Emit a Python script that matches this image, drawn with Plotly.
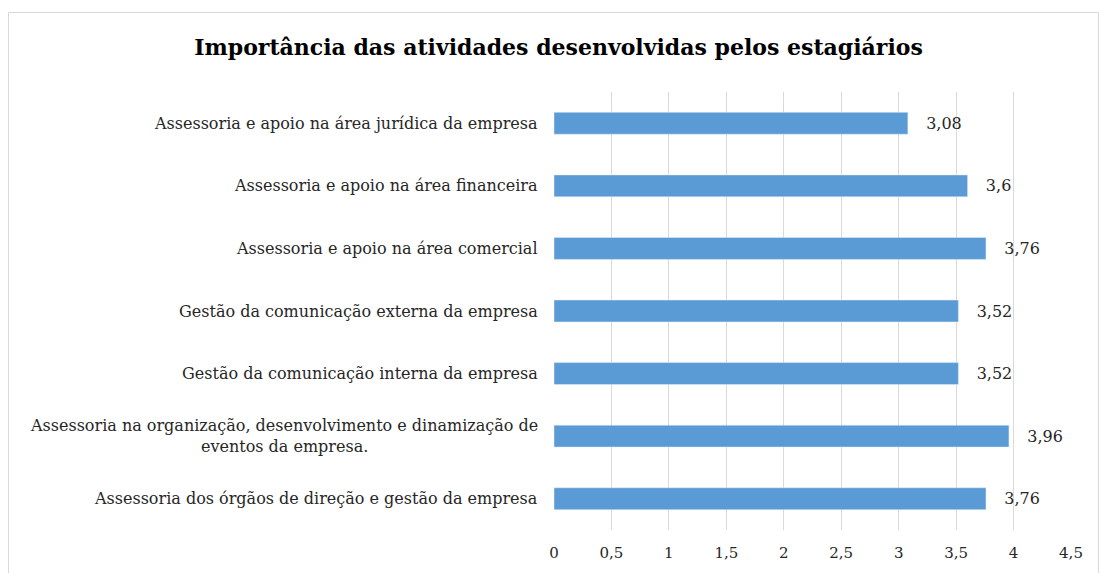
import plotly.graph_objects as go

categories = [
    "Assessoria dos órgãos de direção e gestão da empresa",
    "Assessoria na organização, desenvolvimento e dinamização de<br>eventos da empresa.",
    "Gestão da comunicação interna da empresa",
    "Gestão da comunicação externa da empresa",
    "Assessoria e apoio na área comercial",
    "Assessoria e apoio na área financeira",
    "Assessoria e apoio na área jurídica da empresa",
]
values = [3.76, 3.96, 3.52, 3.52, 3.76, 3.6, 3.08]
value_labels = ["\u00a0\u00a0\u00a0" + f"{v:g}".replace(".", ",") for v in values]
tick_vals = [0, 0.5, 1, 1.5, 2, 2.5, 3, 3.5, 4, 4.5]

FONT = "DejaVu Serif"
W, H = 1099, 573
L, R, T, B = 554, 28, 92, 43
pw, ph = W - L - R, H - T - B

fig = go.Figure()
fig.add_trace(go.Bar(
    y=categories, x=values, orientation="h",
    marker=dict(color="#5B9BD5"),
    text=value_labels, textposition="outside",
    textfont=dict(family=FONT, size=16, color="#262626"),
    cliponaxis=False, hoverinfo="skip",
))

for c in categories:
    fig.add_annotation(
        x=-14 / pw, xref="paper", y=c, yref="y",
        text=c, showarrow=False, xanchor="right", align="center",
        font=dict(family=FONT, size=16, color="#262626"),
    )

fig.add_shape(
    type="rect", xref="paper", yref="paper",
    x0=(8.5 - L) / pw, x1=(1098.5 - L) / pw,
    y0=-0.3, y1=(H - B - 12.5) / ph,
    line=dict(color="#D9D9D9", width=1), fillcolor="rgba(0,0,0,0)", layer="below",
)

fig.update_layout(
    width=W, height=H,
    margin=dict(l=L, r=R, t=T, b=B),
    paper_bgcolor="white", plot_bgcolor="white",
    separators=",.",
    bargap=0.65,
    showlegend=False,
    title=dict(
        text="<b>Importância das atividades desenvolvidas pelos estagiários</b>",
        x=558.5 / W, xanchor="center", y=1 - 47 / H, yanchor="middle",
        font=dict(family=FONT, size=22, color="black"),
    ),
    xaxis=dict(
        range=[0, 4.5], tickvals=tick_vals, showgrid=True, gridcolor="#D9D9D9",
        gridwidth=1, zeroline=False, showline=False, ticks="",
        tickfont=dict(family=FONT, size=15, color="#262626"),
        ticklabelstandoff=12, fixedrange=True,
    ),
    yaxis=dict(
        showticklabels=False, showgrid=False, zeroline=False, showline=False,
        ticks="", fixedrange=True,
    ),
)

fig.write_html("out.html")
